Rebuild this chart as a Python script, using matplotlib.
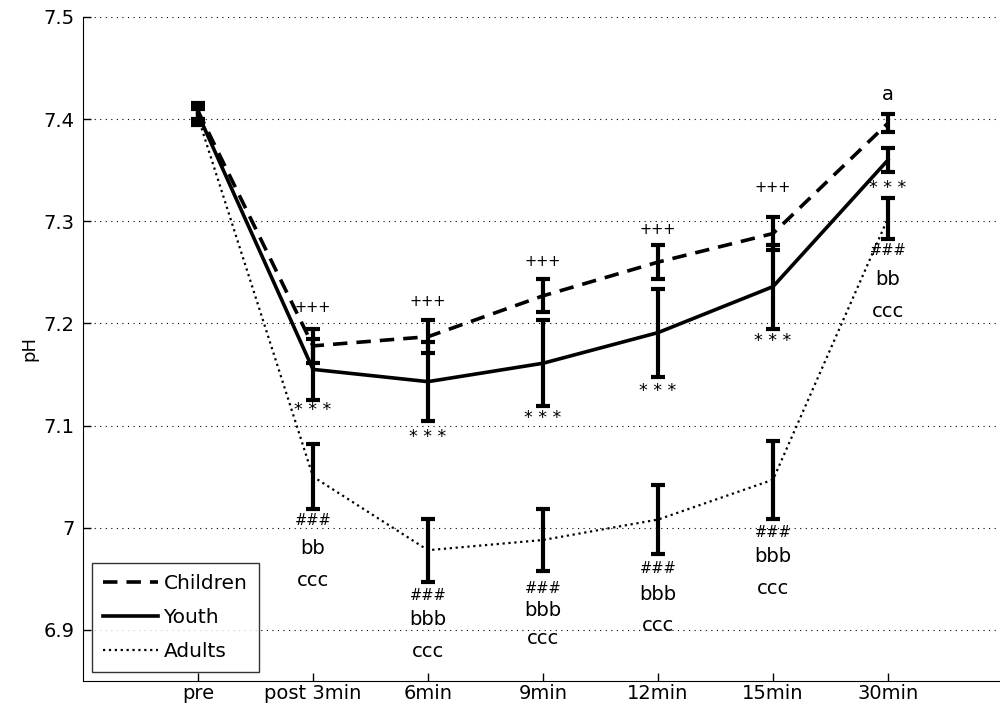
import numpy as np
import matplotlib.pyplot as plt
from matplotlib.lines import Line2D

# time points
labels = ['pre', 'post 3min', '6min', '9min', '12min', '15min', '30min']

# mean pH and error
children = [7.408, 7.178, 7.187, 7.227, 7.260, 7.288, 7.396]
children_err = [0.008, 0.017, 0.016, 0.016, 0.017, 0.016, 0.009]
youth = [7.405, 7.155, 7.143, 7.161, 7.191, 7.236, 7.360]
youth_err = [0.008, 0.030, 0.039, 0.042, 0.043, 0.041, 0.012]
adults = [7.402, 7.050, 6.978, 6.988, 7.008, 7.047, 7.303]
adults_err = [0.008, 0.032, 0.031, 0.030, 0.034, 0.038, 0.020]

# significance marks: y position per time point index
plus_y = {1: 7.216, 2: 7.221, 3: 7.261, 4: 7.292, 5: 7.333}
star_y = {1: 7.115, 2: 7.089, 3: 7.107, 4: 7.134, 5: 7.183, 6: 7.333}
hash_y = {1: 7.007, 2: 6.934, 3: 6.941, 4: 6.960, 5: 6.995, 6: 7.271}
b_text = {1: 'bb', 2: 'bbb', 3: 'bbb', 4: 'bbb', 5: 'bbb', 6: 'bb'}
b_y = {1: 6.980, 2: 6.910, 3: 6.919, 4: 6.935, 5: 6.972, 6: 7.243}
c_y = {1: 6.948, 2: 6.879, 3: 6.892, 4: 6.904, 5: 6.941, 6: 7.212}

x = np.arange(1, len(labels) + 1)

fig = plt.figure(figsize=(10, 7.15), dpi=100)
ax = fig.add_axes([0.083, 0.0476, 0.92, 0.9287])

eb = dict(ecolor='black', elinewidth=3, capsize=5, capthick=3, color='black')
ax.errorbar(x, children, yerr=children_err, linestyle='--', linewidth=2.6, dashes=(4, 2.5), **eb)
ax.errorbar(x, youth, yerr=youth_err, linestyle='-', linewidth=2.6, **eb)
ax.errorbar(x, adults, yerr=adults_err, linestyle=':', linewidth=1.6, **eb)

for i, y in plus_y.items():
    ax.text(x[i], y, '+++', ha='center', va='center', fontsize=10.5)
for i, y in star_y.items():
    ax.text(x[i], y, '* * *', ha='center', va='center', fontsize=12.5)
for i, y in hash_y.items():
    ax.text(x[i], y, '###', ha='center', va='center', fontsize=10.5)
for i, y in b_y.items():
    ax.text(x[i], y, b_text[i], ha='center', va='center', fontsize=14)
for i, y in c_y.items():
    ax.text(x[i], y, 'ccc', ha='center', va='center', fontsize=14)
ax.text(x[6], 7.424, 'a', ha='center', va='center', fontsize=14)

ax.set_xlim(0, 8)
ax.set_ylim(6.85, 7.5)
ax.set_xticks(x)
ax.set_xticklabels(labels)
ax.set_yticks([6.9, 7.0, 7.1, 7.2, 7.3, 7.4, 7.5])
ax.set_yticklabels(['6.9', '7', '7.1', '7.2', '7.3', '7.4', '7.5'])
ax.tick_params(direction='in', length=6, labelsize=14, width=1, pad=6)
ax.tick_params(axis='x', pad=2)
ax.yaxis.grid(True, linestyle=(0, (1, 4)), color='black', linewidth=0.8)
ax.set_ylabel('pH', fontsize=13)
ax.spines['top'].set_visible(False)
ax.spines['right'].set_visible(False)

handles = [Line2D([], [], color='black', linestyle='--', linewidth=2.6, dashes=(4, 2.5)),
           Line2D([], [], color='black', linestyle='-', linewidth=2.6),
           Line2D([], [], color='black', linestyle=':', linewidth=1.6)]
leg = ax.legend(handles, ['Children', 'Youth', 'Adults'], loc='lower left', fontsize=14.5,
                frameon=True, fancybox=False, edgecolor='black', handlelength=2.7,
                handletextpad=0.3, labelspacing=0.75, borderaxespad=0.45, borderpad=0.55)
leg.get_frame().set_linewidth(1)

fig.savefig('out.png', dpi=100)
